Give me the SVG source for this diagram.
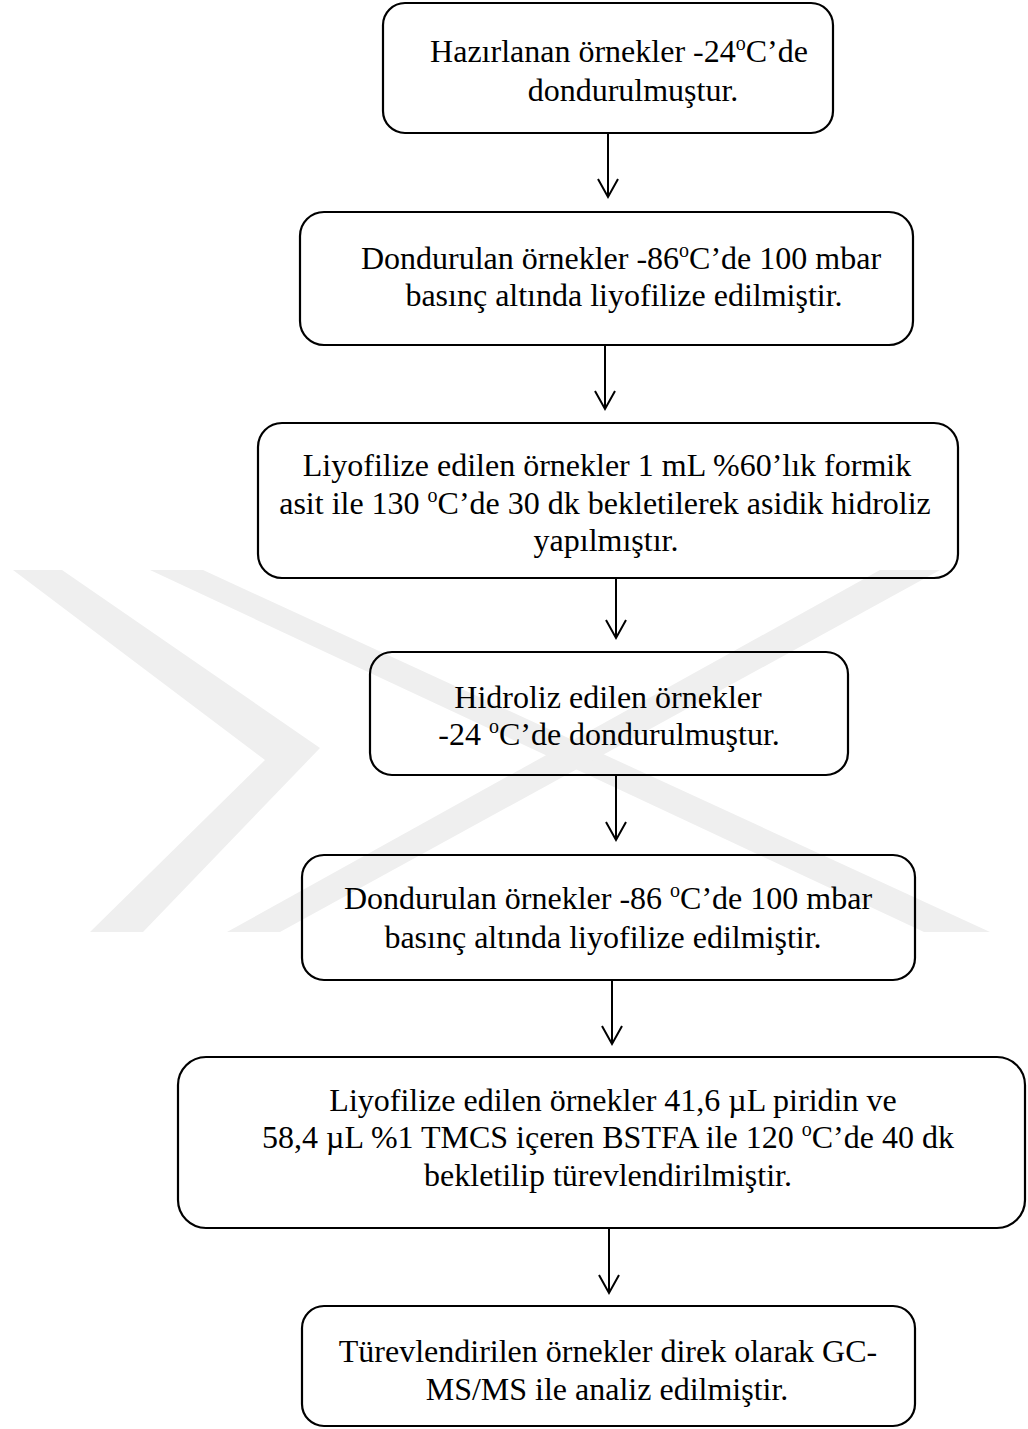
<svg xmlns="http://www.w3.org/2000/svg" width="1028" height="1429" viewBox="0 0 1028 1429">
<style>
.box{fill:none;stroke:#000;stroke-width:2.2}
.t{font-family:"Liberation Serif","Times New Roman",serif;font-size:32px;fill:#000;text-anchor:middle}
.wm{fill:#efefef}
.conn{stroke:#000;stroke-width:2;fill:none}
</style>
<defs>
<marker id="ah" markerUnits="userSpaceOnUse" markerWidth="24" markerHeight="26" viewBox="-21 -13 24 26" refX="0" refY="0" orient="auto">
<path d="M-18,-10 L0,0 L-18,10" fill="none" stroke="#000" stroke-width="2"/>
</marker>
</defs>
<rect width="1028" height="1429" fill="#fff"/>
<g id="watermark">
<polygon class="wm" points="13,570 62,570 320,748 143,932 90,932 265,760"/>
<polygon class="wm" points="150,570 203,570 990,932 924,932"/>
<polygon class="wm" points="227,932 280,932 940,570 880,570"/>
</g>
<g id="connectors">
<line class="conn" x1="608" y1="133" x2="608" y2="197" marker-end="url(#ah)"/>
<line class="conn" x1="605" y1="345" x2="605" y2="409" marker-end="url(#ah)"/>
<line class="conn" x1="616" y1="578" x2="616" y2="638" marker-end="url(#ah)"/>
<line class="conn" x1="616" y1="775" x2="616" y2="840" marker-end="url(#ah)"/>
<line class="conn" x1="612" y1="980" x2="612" y2="1044" marker-end="url(#ah)"/>
<line class="conn" x1="609" y1="1228" x2="609" y2="1293" marker-end="url(#ah)"/>
</g>
<g id="n1">
<rect class="box" x="383" y="3" width="450" height="130" rx="22"/>
<text class="t" x="619" y="62">Hazırlanan örnekler -24<tspan dy="-12" font-size="20">o</tspan><tspan dy="12">C’de</tspan></text>
<text class="t" x="633" y="101">dondurulmuştur.</text>
</g>
<g id="n2">
<rect class="box" x="300" y="212" width="613" height="133" rx="24"/>
<text class="t" x="621" y="269">Dondurulan örnekler -86<tspan dy="-12" font-size="20">o</tspan><tspan dy="12">C’de 100 mbar</tspan></text>
<text class="t" x="624" y="306">basınç altında liyofilize edilmiştir.</text>
</g>
<g id="n3">
<rect class="box" x="258" y="423" width="700" height="155" rx="24"/>
<text class="t" x="607" y="476">Liyofilize edilen örnekler 1 mL %60’lık formik</text>
<text class="t" x="605" y="514">asit ile 130 <tspan dy="-12" font-size="20">o</tspan><tspan dy="12">C’de 30 dk bekletilerek asidik hidroliz</tspan></text>
<text class="t" x="606" y="551">yapılmıştır.</text>
</g>
<g id="n4">
<rect class="box" x="370" y="652" width="478" height="123" rx="22"/>
<text class="t" x="608" y="708">Hidroliz edilen örnekler</text>
<text class="t" x="609" y="745">-24 <tspan dy="-12" font-size="20">o</tspan><tspan dy="12">C’de dondurulmuştur.</tspan></text>
</g>
<g id="n5">
<rect class="box" x="302" y="855" width="613" height="125" rx="22"/>
<text class="t" x="608" y="909">Dondurulan örnekler -86 <tspan dy="-12" font-size="20">o</tspan><tspan dy="12">C’de 100 mbar</tspan></text>
<text class="t" x="603" y="948">basınç altında liyofilize edilmiştir.</text>
</g>
<g id="n6">
<rect class="box" x="178" y="1057" width="847" height="171" rx="28"/>
<text class="t" x="613" y="1111">Liyofilize edilen örnekler 41,6 µL piridin ve</text>
<text class="t" x="608" y="1148">58,4 µL %1 TMCS içeren BSTFA ile 120 <tspan dy="-12" font-size="20">o</tspan><tspan dy="12">C’de 40 dk</tspan></text>
<text class="t" x="608" y="1186">bekletilip türevlendirilmiştir.</text>
</g>
<g id="n7">
<rect class="box" x="302" y="1306" width="613" height="120" rx="22"/>
<text class="t" x="608" y="1362">Türevlendirilen örnekler direk olarak GC-</text>
<text class="t" x="607" y="1400">MS/MS ile analiz edilmiştir.</text>
</g>
</svg>
